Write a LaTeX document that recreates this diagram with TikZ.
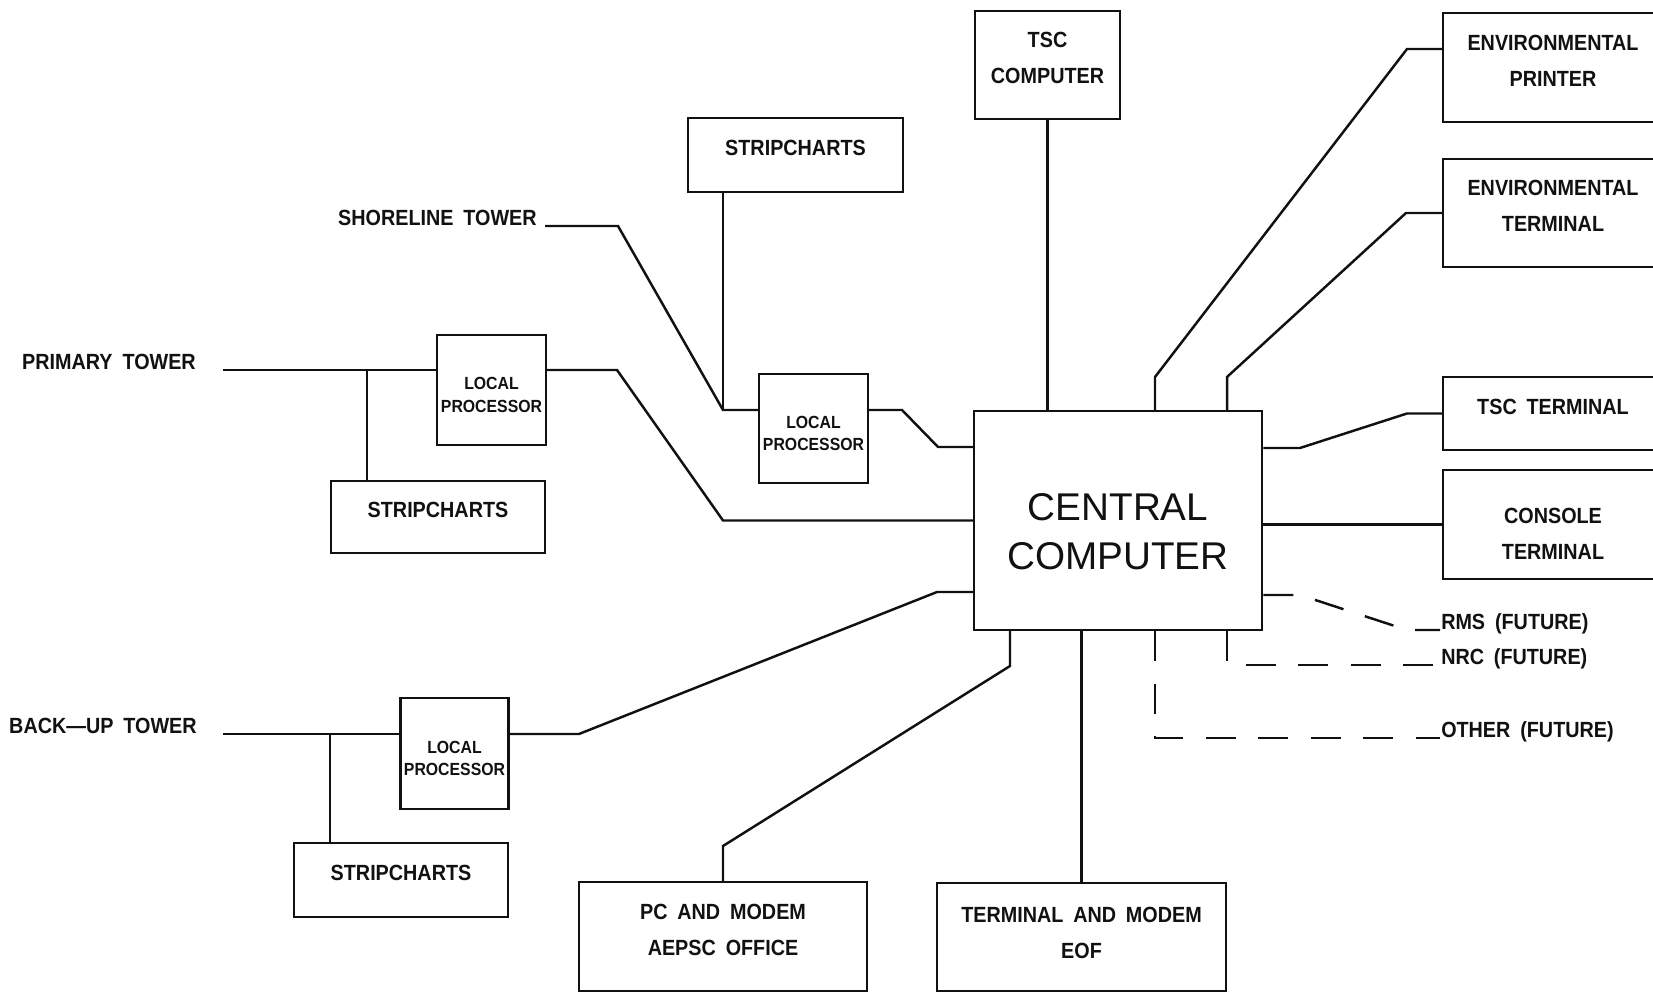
\documentclass[tikz,border=0pt]{standalone}
\usepackage{fontspec}
\usepackage{tikz}
\usetikzlibrary{calc}
\newfontfamily\plotfont{Liberation Sans}[FakeStretch=0.9,WordSpace=1.8]
\newfontfamily\bigfont{Liberation Sans}[WordSpace=1.5]
\definecolor{ink}{RGB}{17,17,17}
\definecolor{paper}{RGB}{255,255,255}

\begin{document}
\begin{tikzpicture}[
    line width=1.4pt, draw=ink, text=ink,
    box/.style={draw=ink, line width=1.4pt, align=center, inner sep=2pt, text depth=0.27cm,
        font=\plotfont\bfseries\fontsize{12.5}{20.5}\selectfont},
    textdrop/.style={text depth=0pt, text height=#1},
    lpbox/.style={box, textdrop=25.6pt, font=\plotfont\bfseries\fontsize{10}{13}\selectfont},
    tag/.style={inner sep=0pt, font=\plotfont\bfseries\fontsize{12.5}{15}\selectfont},
    future/.style={draw=ink, dash pattern=on 0.6cm off 0.45cm}
]

% Sheet
\useasboundingbox (0,0) rectangle (33.06,19.86);
\fill[paper] (0,0) rectangle (33.06,19.86);

% Central computer
\node[box, minimum width=5.76cm, minimum height=4.38cm, textdrop=56pt, font=\bigfont\fontsize{22}{28}\selectfont] (CENTRAL) at (22.36, 9.45) {CENTRAL\\COMPUTER};

% Top and right side units
\node[box, minimum width=2.9cm, minimum height=2.16cm] (TSC_COMP) at (20.95, 18.56) {TSC\\COMPUTER};
\node[box, minimum width=4.4cm, minimum height=2.18cm] (ENV_PRINT) at (31.06, 18.51) {ENVIRONMENTAL\\PRINTER};
\node[box, minimum width=4.4cm, minimum height=2.16cm] (ENV_TERM) at (31.06, 15.6) {ENVIRONMENTAL\\TERMINAL};
\node[box, minimum width=4.4cm, minimum height=1.46cm] (TSC_TERM) at (31.06, 11.59) {TSC TERMINAL};
\node[box, minimum width=4.4cm, minimum height=2.18cm, textdrop=40.4pt] (CONSOLE) at (31.06, 9.37) {CONSOLE\\TERMINAL};

% Future links
\node[tag, anchor=base west] (RMS) at (28.8, 7.26) {RMS (FUTURE)};
\node[tag, anchor=base west] (NRC) at (28.8, 6.56) {NRC (FUTURE)};
\node[tag, anchor=base west] (OTHER) at (28.8, 5.1) {OTHER (FUTURE)};

% Bottom units
\node[box, minimum width=5.76cm, minimum height=2.18cm] (PC_MODEM) at (14.46, 1.13) {PC AND MODEM\\AEPSC OFFICE};
\node[box, minimum width=5.78cm, minimum height=2.16cm, text depth=0.16cm] (EOF) at (21.63, 1.12) {TERMINAL AND MODEM\\EOF};

% Towers
\node[tag, anchor=base west] (PRIM_TWR) at (0.42, 12.46) {PRIMARY TOWER};
\node[tag, anchor=base west] (SHORE_TWR) at (6.74, 15.34) {SHORELINE TOWER};
\node[tag, anchor=base west] (BACK_TWR) at (0.16, 5.18) {BACK—UP TOWER};

\node[lpbox, minimum width=2.18cm, minimum height=2.2cm] (LP_PRIM) at (9.83, 12.06) {LOCAL\\PROCESSOR};
\node[box, minimum width=4.28cm, minimum height=1.44cm] (SC_PRIM) at (8.76, 9.52) {STRIPCHARTS};
\node[lpbox, minimum width=2.18cm, minimum height=2.18cm] (LP_SHORE) at (16.27, 11.29) {LOCAL\\PROCESSOR};
\node[box, minimum width=4.3cm, minimum height=1.48cm] (SC_SHORE) at (15.91, 16.76) {STRIPCHARTS};
\node[lpbox, minimum width=2.14cm, minimum height=2.22cm] (LP_BACK) at (9.09, 4.79) {LOCAL\\PROCESSOR};
\node[box, minimum width=4.28cm, minimum height=1.48cm] (SC_BACK) at (8.02, 2.26) {STRIPCHARTS};

% Junctions and bends
\coordinate (PRIM_J) at (7.34, 12.46);
\coordinate (PRIM_B) at (14.46, 9.45);
\coordinate (SHORE_J) at (14.46, 11.66);
\coordinate (SHORE_B) at (18.76, 10.92);
\coordinate (BACK_J) at (6.6, 5.18);
\coordinate (BACK_B) at (18.74, 8.02);
\coordinate (EP_A) at (23.1, 12.32);
\coordinate (ET_A) at (24.54, 12.32);
\coordinate (TT_A) at (26.0, 10.9);
\coordinate (RMS_A) at (26.0, 7.96);
\coordinate (NRC_A) at (24.54, 6.56);
\coordinate (OTH_A) at (23.1, 5.1);
\coordinate (PC_A) at (20.2, 6.54);

% Primary tower
\draw ([xshift=4.04cm]PRIM_TWR.base west) -- (PRIM_TWR.base west -| LP_PRIM.west);
\draw (PRIM_J) -- (PRIM_J |- SC_PRIM.north);
\draw (PRIM_J -| LP_PRIM.east) -- (12.34, 12.46) -- (PRIM_B) -- (CENTRAL.west);

% Shoreline tower
\draw ([xshift=4.16cm]SHORE_TWR.base west) -- (12.36, 15.34) -- (SHORE_J) -- (SHORE_J -| LP_SHORE.west);
\draw (SC_SHORE.south -| SHORE_J) -- (SHORE_J);
\draw (SHORE_J -| LP_SHORE.east) -- (18.04, 11.66) -- (SHORE_B) -- (SHORE_B -| CENTRAL.west);

% Back-up tower
\draw ([xshift=4.3cm]BACK_TWR.base west) -- (BACK_TWR.base west -| LP_BACK.west);
\draw (BACK_J) -- (BACK_J |- SC_BACK.north);
\draw (BACK_J -| LP_BACK.east) -- (11.58, 5.18) -- (BACK_B) -- (BACK_B -| CENTRAL.west);

% Top and right links
\draw (TSC_COMP.south) -- (TSC_COMP.south |- CENTRAL.north);
\draw (EP_A |- CENTRAL.north) -- (EP_A) -- (28.14, 18.88) -- (ENV_PRINT.west |- 28.14,18.88);
\draw (ET_A |- CENTRAL.north) -- (ET_A) -- (28.12, 15.6) -- (ENV_TERM.west);
\draw (TT_A -| CENTRAL.east) -- (TT_A) -- (28.14, 11.59) -- (TSC_TERM.west);
\draw (CONSOLE.west -| CENTRAL.east) -- (CONSOLE.west);

% Future links (dashed)
\draw[future] (RMS_A -| CENTRAL.east) -- (RMS_A) -- (28.14, 7.26) -- (RMS.base west);
\draw[future] (NRC_A |- CENTRAL.south) -- (NRC_A) -- (NRC.base west);
\draw[future] (OTH_A |- CENTRAL.south) -- (OTH_A) -- (OTHER.base west);

% Bottom links
\draw (PC_A |- CENTRAL.south) -- (PC_A) -- (14.46, 2.94) -- (PC_MODEM.north);
\draw (EOF.north) -- (EOF.north |- CENTRAL.south);

\end{tikzpicture}
\end{document}
